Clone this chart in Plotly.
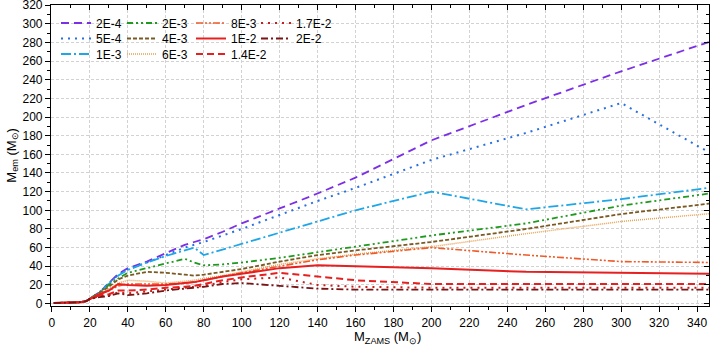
import plotly.graph_objects as go

# 初始质量 (M_ZAMS) 网格
m_zams = [1, 10, 15, 18, 20, 25, 30, 35, 40, 50, 60, 70, 75, 80, 90, 100,
          120, 140, 160, 200, 250, 300, 350]

# 各金属丰度下的 M_em
z_2e4 = [0.5, 1, 1.5, 2.5, 5, 12, 22, 32, 38, 45, 54, 63, 66, 69, 77, 86,
         102, 118, 135, 175, 213, 249, 283]
z_5e4 = [0.5, 1, 1.5, 2.5, 5, 12, 22, 31, 37, 44, 52, 60, 63, 66, 73, 80,
         95, 110, 124, 154, 183, 215, 158]
z_1e3 = [0.5, 1, 1.5, 2.5, 5, 12, 21, 30, 36, 44, 51, 57, 60, 52, 58, 64,
         76, 88, 100, 120, 101, 112, 125]
z_2e3 = [0.5, 1, 1.5, 2.5, 5, 12, 20, 27, 33, 38, 43, 48, 44, 41, 42, 44,
         49, 55, 61, 73, 86, 105, 119]
z_4e3 = [0.5, 1, 1.5, 2.5, 5, 11, 18, 26, 30, 34, 33, 31, 30, 31, 34, 37,
         45, 52, 57, 66, 80, 96, 108]
z_6e3 = [0.5, 1, 1.5, 2.5, 5, 10, 16, 22, 25, 24, 22, 24, 25, 27, 30, 34,
         42, 48, 53, 61, 75, 88, 97]
z_8e3 = [0.5, 1, 1.5, 2.5, 5, 10, 14, 19, 21, 21, 21, 22, 23, 25, 29, 33,
         40, 47, 52, 60, 52, 45, 44]
z_1e2 = [0.5, 1, 1.5, 2.5, 5, 10, 14, 21, 20, 19, 20, 22, 23, 25, 29, 32,
         38, 41, 40, 38, 34, 33, 32]
z_14e2 = [0.5, 1, 1.5, 2.5, 5, 9, 10, 14, 14, 15, 17, 18, 19, 21, 25, 28,
          33, 29, 25, 21, 21, 21, 21]
z_17e2 = [0.5, 1, 1.5, 2.5, 5, 8, 9, 12, 11, 13, 15, 17, 18, 19, 23, 26,
          28, 20, 18, 17, 17, 17, 17]
z_2e2 = [0.5, 1, 1.5, 2.5, 5, 7, 8, 11, 9, 11, 14, 16, 17, 18, 21, 22,
         19, 16, 15, 15, 15, 15, 15]

x_ticks = list(range(0, 341, 20))
y_ticks = list(range(0, 321, 20))

# (名称, 数据, 颜色, 线型, 线宽, 图例列, 图例行)
series = [
    ("2E-4", z_2e4, "#7b2fe6", "8px,5px", 1.8, 0, 0),
    ("5E-4", z_5e4, "#2a6fe0", "2px,5px", 2.0, 0, 1),
    ("1E-3", z_1e3, "#1fa6e6", "10px,3px,2px,3px", 1.8, 0, 2),
    ("2E-3", z_2e3, "#1e9a1e", "6px,3px,2px,3px,2px,3px", 1.8, 1, 0),
    ("4E-3", z_4e3, "#7a5a22", "4px,2px", 1.8, 1, 1),
    ("6E-3", z_6e3, "#e6a050", "1px,1px", 1.5, 1, 2),
    ("8E-3", z_8e3, "#f05a28", "7px,2px,2px,2px,2px,2px", 1.6, 2, 0),
    ("1E-2", z_1e2, "#e62020", "solid", 2.0, 2, 1),
    ("1.4E-2", z_14e2, "#e62020", "7px,4px", 2.0, 2, 2),
    ("1.7E-2", z_17e2, "#c81e1e", "2px,5px", 2.0, 3, 0),
    ("2E-2", z_2e2, "#781414", "7px,3px,2px,3px", 1.8, 3, 1),
]

font = dict(family="Liberation Sans, Arial, sans-serif", size=12, color="black")
xr = [-0.5, 346.3]
yr = [-2.6, 320.1]
leg_col_px = [56, 122, 191, 256]
leg_row_px = [23, 38.5, 54]

fig = go.Figure()
legends = {}
for i, (name, vals, color, dash, width, col, row) in enumerate(series):
    key = "legend" if i == 0 else "legend%d" % (i + 1)
    fig.add_trace(go.Scatter(
        x=m_zams, y=vals, mode="lines", name=name, legend=key,
        line=dict(color=color, dash=dash, width=width),
    ))
    legends[key] = dict(
        x=(leg_col_px[col] - 51) / 658, y=1 - (leg_row_px[row] - 5) / 301,
        xanchor="left", yanchor="middle", orientation="v",
        bgcolor="rgba(0,0,0,0)", font=font,
    )

# 上/右侧内向刻度用的辅助坐标轴
fig.add_trace(go.Scatter(x=[None], y=[None], xaxis="x2", yaxis="y2",
                         showlegend=False, hoverinfo="skip"))

axis_common = dict(
    showline=True, linecolor="black", linewidth=1.2,
    ticks="outside", ticklen=5, tickwidth=1, tickcolor="black",
    minor=dict(ticks="outside", ticklen=3, tickcolor="black", dtick=10,
               showgrid=False),
    showgrid=True, gridcolor="#d2d2d2", griddash="3px,2px", gridwidth=1,
    zeroline=False, mirror=True, tickfont=font, automargin=False,
    ticklabeloverflow="allow",
)
aux_common = dict(
    ticks="inside", ticklen=5, tickcolor="black",
    minor=dict(ticks="inside", ticklen=3, dtick=10, tickcolor="black"),
    showticklabels=False, showgrid=False, zeroline=False, automargin=False,
)

fig.update_layout(
    width=710, height=349,
    margin=dict(l=51, r=1, t=5, b=43, autoexpand=False),
    plot_bgcolor="white", paper_bgcolor="white",
    font=font,
    xaxis=dict(range=xr, tickvals=x_ticks, **axis_common),
    yaxis=dict(range=yr, tickvals=y_ticks, **axis_common),
    xaxis2=dict(range=xr, overlaying="x", side="top", tickvals=x_ticks,
                **aux_common),
    yaxis2=dict(range=yr, overlaying="y", side="right", tickvals=y_ticks,
                **aux_common),
    showlegend=True,
    annotations=[
        dict(text="M<sub>ZAMS</sub> (M<sub>⊙</sub>)", xref="paper",
             yref="paper", x=(387 - 51) / 658, y=-0.07, xanchor="center",
             yanchor="top", showarrow=False, font=dict(size=13)),
        dict(text="M<sub>em</sub> (M<sub>⊙</sub>)", xref="paper",
             yref="paper", x=-0.059, y=0.5, xanchor="center",
             yanchor="middle", textangle=-90, showarrow=False,
             font=dict(size=13)),
    ],
)
fig.update_layout(legends)

# 去掉页面默认的 body 边距，隐藏工具栏
fig.write_html("out.html", config={"displayModeBar": False},
               post_script="document.body.style.margin='0';")
